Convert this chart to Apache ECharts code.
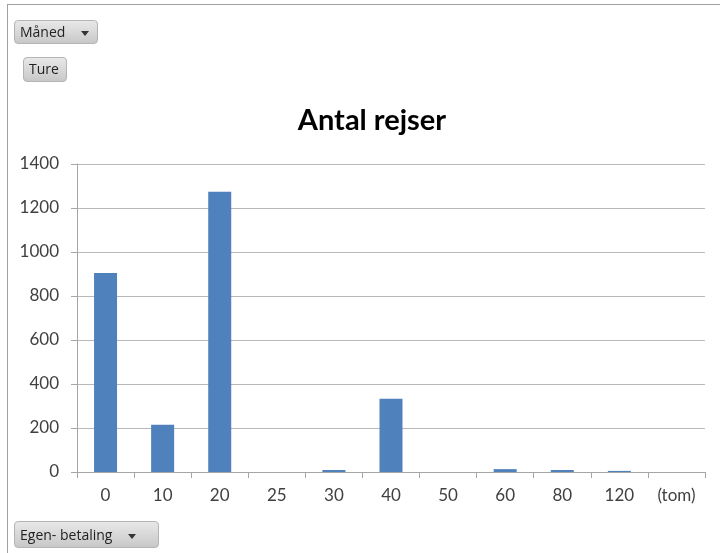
<!DOCTYPE html>
<html>
<head>
<meta charset="utf-8">
<script src="https://cdn.jsdelivr.net/npm/echarts@6/dist/echarts.min.js"></script>
<style>
    html, body { margin: 0; padding: 0; background: #fff; }
    .frame {
        position: absolute; left: 7px; top: 4px; width: 720px; height: 560px;
        border-left: 1px solid #a0a0a0; border-top: 1px solid #a0a0a0;
    }
    #chart { position: absolute; left: 0; top: 0; width: 720px; height: 553px; }
    .btn {
        position: absolute; box-sizing: border-box;
        font-family: "Open Sans", "DejaVu Sans", sans-serif; font-size: 14px; color: #222;
        background: linear-gradient(#e8e8e8, #c8c8c8);
        border: 1px solid #b4b4b4; border-radius: 4px;
        padding: 0 5px; line-height: 22px; white-space: nowrap;
    }
    .arrow {
        display: inline-block; width: 0; height: 0; vertical-align: middle;
        border-left: 4px solid transparent; border-right: 4px solid transparent;
        border-top: 5px solid #333; margin-left: 16px;
    }
</style>
</head>
<body>
<div class="frame"></div>
<div id="chart"></div>
<div class="btn" style="left:14px;top:20px;width:84px;height:24px;">Måned<span class="arrow"></span></div>
<div class="btn" style="left:23px;top:57px;width:44px;height:25px;">Ture</div>
<div class="btn" style="left:14px;top:521px;width:145px;height:27px;line-height:25px;">Egen- betaling<span class="arrow"></span></div>
<script>
// Antal rejser pr. egenbetaling
var categories = ['0', '10', '20', '25', '30', '40', '50', '60', '80', '120', '(tom)'];
var rejser = [905, 215, 1274, 0, 9, 333, 0, 13, 9, 5, 0];

var myChart = echarts.init(document.getElementById('chart'));
var option = {
    animation: false,
    title: {
        text: 'Antal rejser',
        left: 367,
        textAlign: 'center',
        top: 101,
        textStyle: {
            fontFamily: 'Lato, "Open Sans", sans-serif',
            fontSize: 29,
            fontWeight: 'bold',
            color: '#000'
        }
    },
    grid: {
        left: 77,
        right: 15,
        top: 164,
        bottom: 81
    },
    xAxis: {
        type: 'category',
        data: categories,
        axisLine: { lineStyle: { color: '#a6a6a6' } },
        axisTick: { show: true, length: 6, lineStyle: { color: '#a6a6a6' } },
        axisLabel: {
            margin: 15,
            fontFamily: 'Lato, "Open Sans", sans-serif',
            fontSize: 17,
            color: '#404040'
        }
    },
    yAxis: {
        type: 'value',
        min: 0,
        max: 1400,
        interval: 200,
        axisLine: { show: true, lineStyle: { color: '#a6a6a6' } },
        axisTick: { show: true, length: 6, lineStyle: { color: '#a6a6a6' } },
        splitLine: { lineStyle: { color: '#b8b8b8' } },
        axisLabel: {
            margin: 18,
            formatter: function (v) { return String(v); },
            fontFamily: 'Lato, "Open Sans", sans-serif',
            fontSize: 17,
            color: '#404040'
        }
    },
    series: [
        {
            type: 'bar',
            data: rejser,
            barWidth: 23,
            itemStyle: {
                color: '#4f81bd'
            }
        }
    ]
};
myChart.setOption(option);
</script>
</body>
</html>
